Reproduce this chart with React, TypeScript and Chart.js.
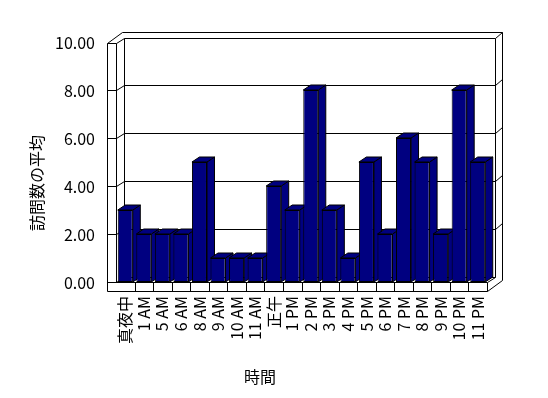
import React, { useEffect, useRef } from 'react';
import { Chart, registerables } from 'chart.js';

Chart.register(...registerables);

const categories = ['真夜中', '1 AM', '5 AM', '6 AM', '8 AM', '9 AM', '10 AM', '11 AM', '正午', '1 PM', '2 PM', '3 PM', '4 PM', '5 PM', '6 PM', '7 PM', '8 PM', '9 PM', '10 PM', '11 PM'];
const visits = [3, 2, 2, 2, 5, 1, 1, 1, 4, 3, 8, 3, 1, 5, 2, 6, 5, 2, 8, 5];
const yTickValues = [0, 2, 4, 6, 8, 10];
const yAxisTitle = '訪問数の平均';
const xAxisTitle = '時間';

const FONT = '"Noto Sans CJK JP", "Noto Sans", sans-serif';
const NAVY = '#000080';
const DX = 7.5;
const DY = -5;
const EX = 7;
const EY = -6;
const WALL = 9;
const FLOOR = 9;

type Pt = [number, number];

const frame3d = {
  id: 'frame3d',
  beforeDatasetsDraw(chart: any) {
    const { ctx, chartArea } = chart;
    const { left: L, right: R, top: T, bottom: B } = chartArea;
    const y = chart.scales.y;
    ctx.save();
    ctx.strokeStyle = '#000';
    ctx.lineWidth = 1;
    const line = (pts: Pt[]) => {
      ctx.beginPath();
      ctx.moveTo(pts[0][0], pts[0][1]);
      for (let i = 1; i < pts.length; i++) ctx.lineTo(pts[i][0], pts[i][1]);
      ctx.stroke();
    };
    const h = (v: number) => Math.round(v) + 0.5;
    const Tw = T + 1;

    // back wall outer (slab top and right side)
    line([[h(L - WALL + DX + EX), h(Tw + DY + EY)], [h(R + DX + EX), h(Tw + DY + EY)]]);
    line([[h(R + DX + EX), h(Tw + DY + EY)], [h(R + DX + EX), h(B + FLOOR + DY + EY)]]);
    line([[h(R + DX), h(Tw + DY)], [h(R + DX + EX), h(Tw + DY + EY)]]);
    line([[h(R), h(B + FLOOR)], [h(R + DX + EX), h(B + FLOOR + DY + EY)]]);
    // back wall inner face
    line([[h(L + DX), h(Tw + DY)], [h(R + DX), h(Tw + DY)]]);
    line([[h(L + DX), h(Tw + DY)], [h(L + DX), h(B + DY)]]);
    line([[h(R + DX), h(Tw + DY)], [h(R + DX), h(B + DY)]]);
    line([[h(L + DX), h(B + DY)], [h(R + DX), h(B + DY)]]);
    // gridlines on back wall, left wall, right side, and ticks on left wall front
    for (const v of yTickValues) {
      const py = y.getPixelForValue(v);
      if (v > 0 && v < 10) {
        line([[h(L + DX), h(py + DY)], [h(R + DX), h(py + DY)]]);
        line([[h(L), h(py)], [h(L + DX), h(py + DY)]]);
        line([[h(R + DX), h(py + DY)], [h(R + DX + EX), h(py + DY + EY)]]);
        line([[h(L - WALL), h(py)], [h(L), h(py)]]);
      }
    }
    // left wall
    line([[h(L - WALL), h(Tw)], [h(L - WALL), h(B + FLOOR)]]);
    line([[h(L), h(Tw)], [h(L), h(B)]]);
    line([[h(L - WALL), h(Tw)], [h(L), h(Tw)]]);
    line([[h(L - WALL), h(Tw)], [h(L - WALL + DX + EX), h(Tw + DY + EY)]]);
    line([[h(L), h(Tw)], [h(L + DX), h(Tw + DY)]]);
    // floor
    line([[h(L), h(B)], [h(L + DX), h(B + DY)]]);
    line([[h(R), h(B)], [h(R + DX), h(B + DY)]]);
    line([[h(L - WALL), h(B)], [h(R), h(B)]]);
    line([[h(L - WALL), h(B + FLOOR)], [h(R), h(B + FLOOR)]]);
    line([[h(R), h(B)], [h(R), h(B + FLOOR)]]);
    const cw = (R - L) / categories.length;
    for (let i = 1; i < categories.length; i++) {
      line([[h(L + i * cw), h(B)], [h(L + i * cw), h(B + FLOOR)]]);
    }

    // bar side and top faces
    const meta = chart.getDatasetMeta(0);
    ctx.fillStyle = NAVY;
    meta.data.forEach((el: any) => {
      const x1 = el.x - el.width / 2;
      const x2 = el.x + el.width / 2;
      const yt = el.y;
      const yb = el.base;
      const side: Pt[] = [[x2, yt], [x2 + DX, yt + DY], [x2 + DX, yb + DY], [x2, yb]];
      const top: Pt[] = [[x1, yt], [x1 + DX, yt + DY], [x2 + DX, yt + DY], [x2, yt]];
      for (const poly of [side, top]) {
        ctx.beginPath();
        ctx.moveTo(poly[0][0], poly[0][1]);
        for (let i = 1; i < poly.length; i++) ctx.lineTo(poly[i][0], poly[i][1]);
        ctx.closePath();
        ctx.fill();
        ctx.stroke();
      }
    });
    ctx.restore();
  },
  afterDraw(chart: any) {
    const { ctx } = chart;
    ctx.save();
    ctx.fillStyle = '#000';
    ctx.font = `16px ${FONT}`;
    ctx.textAlign = 'center';
    ctx.textBaseline = 'middle';
    ctx.fillText(xAxisTitle, 260, 377);
    ctx.translate(37, 183);
    ctx.rotate(-Math.PI / 2);
    ctx.fillText(yAxisTitle, 0, 0);
    ctx.restore();
  },
};

export default function App() {
  const ref = useRef<HTMLCanvasElement>(null);
  useEffect(() => {
    if (!ref.current) return;
    const chart = new Chart(ref.current, {
      type: 'bar',
      data: {
        labels: categories,
        datasets: [
          {
            data: visits,
            backgroundColor: NAVY,
            borderColor: '#000',
            borderWidth: 1,
            borderSkipped: false,
            categoryPercentage: 1,
            barPercentage: 0.81,
          },
        ],
      },
      options: {
        responsive: false,
        animation: false,
        devicePixelRatio: 1,
        layout: { padding: { top: 42, right: 61, left: 0, bottom: 0 } },
        plugins: { legend: { display: false }, tooltip: { enabled: false } },
        scales: {
          x: {
            type: 'category',
            offset: true,
            grid: { display: false, drawTicks: false },
            border: { display: false },
            ticks: {
              color: '#000',
              font: { family: FONT, size: 16 },
              maxRotation: 90,
              minRotation: 90,
              autoSkip: false,
              padding: 14,
            },
            afterFit: (s: any) => {
              s.height = 116;
            },
          },
          y: {
            min: 0,
            max: 10,
            grid: { display: false, drawTicks: false },
            border: { display: false },
            ticks: {
              color: '#000',
              stepSize: 2,
              font: { family: FONT, size: 16 },
              padding: 21,
              labelOffset: 1,
              callback: (v: any) => Number(v).toFixed(2),
            },
            afterFit: (s: any) => {
              s.width = 116;
            },
          },
        },
      },
      plugins: [frame3d],
    });
    return () => chart.destroy();
  }, []);
  return (
    <div style={{ position: 'fixed', left: 0, top: 0, width: 548, height: 398, background: '#fff' }}>
      <canvas ref={ref} width={548} height={398} style={{ display: 'block' }} />
    </div>
  );
}
